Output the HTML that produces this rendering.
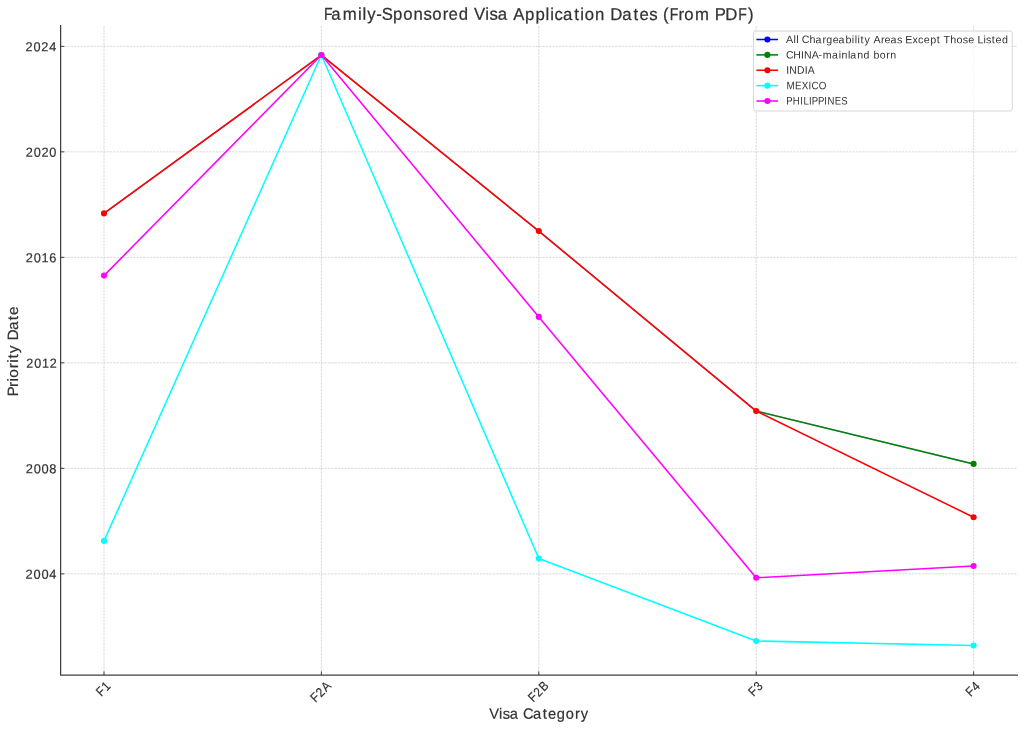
<!DOCTYPE html>
<html lang="en"><head><meta charset="utf-8">
<title>Family-Sponsored Visa Application Dates (From PDF)</title>
<style>
html,body{margin:0;padding:0;background:#fff;}
body{width:1024px;height:729px;overflow:hidden;}
svg{display:block;will-change:transform;}
text{font-family:"Liberation Sans",sans-serif;text-rendering:geometricPrecision;fill:#333333;stroke:#333333;stroke-width:0;}
.tt{stroke-width:0.25px;}.tl{stroke-width:0.2px;}.tk{stroke-width:0.2px;}.lg{stroke-width:0;}
.grid line{stroke:#c4c4c4;stroke-width:0.65;stroke-dasharray:2.3 1;fill:none;}
.tick line{stroke:#404040;stroke-width:1.0;}
.spine{stroke:#404040;stroke-width:1.25;fill:none;stroke-linecap:square;stroke-linejoin:miter;}
.s polyline,.s line{fill:none;stroke-width:1.55;stroke-linejoin:round;stroke-linecap:butt;}
</style></head><body>
<svg width="1024" height="729" viewBox="0 0 1024 729" role="img" aria-label="Line chart: Family-Sponsored Visa Application Dates (From PDF)">
<rect width="1024" height="729" fill="#ffffff"/>
<!-- grid -->
<g class="grid">
<line x1="104" y1="675.05" x2="104" y2="25.5"/>
<line x1="321.4" y1="675.05" x2="321.4" y2="25.5"/>
<line x1="538.8" y1="675.05" x2="538.8" y2="25.5"/>
<line x1="756.2" y1="675.05" x2="756.2" y2="25.5"/>
<line x1="973.6" y1="675.05" x2="973.6" y2="25.5"/>
<line x1="60.62" y1="46.35" x2="1017.4" y2="46.35"/>
<line x1="60.62" y1="151.85" x2="1017.4" y2="151.85"/>
<line x1="60.62" y1="257.35" x2="1017.4" y2="257.35"/>
<line x1="60.62" y1="362.85" x2="1017.4" y2="362.85"/>
<line x1="60.62" y1="468.35" x2="1017.4" y2="468.35"/>
<line x1="60.62" y1="573.85" x2="1017.4" y2="573.85"/>
</g>
<!-- data series -->
<g class="s" stroke="#0000ff" fill="#0000ff">
<polyline stroke-opacity="0.3" points="104,213.4 321.4,55.05 538.8,231.1 756.2,411.1 973.6,463.9"/>
</g>
<g class="s" stroke="#008000" fill="#008000">
<polyline stroke-opacity="0.3" points="104,213.4 321.4,55.05 538.8,231.1 756.2,411.1"/>
<polyline points="756.2,411.1 973.6,463.9"/>
<circle cx="973.6" cy="463.9" r="3.05" stroke="none"/>
</g>
<g class="s" stroke="#ff0000" fill="#ff0000">
<polyline points="104,213.4 321.4,55.05 538.8,231.1 756.2,411.1 973.6,517.25"/>
<circle cx="104" cy="213.4" r="3.05" stroke="none"/>
<circle cx="321.4" cy="55.05" r="3.05" stroke="none"/>
<circle cx="538.8" cy="231.1" r="3.05" stroke="none"/>
<circle cx="756.2" cy="411.1" r="3.05" stroke="none"/>
<circle cx="973.6" cy="517.25" r="3.05" stroke="none"/>
</g>
<g class="s" stroke="#00ffff" fill="#00ffff">
<polyline points="104,540.9 321.4,55.05 538.8,558.5 756.2,641 973.6,645.5"/>
<circle cx="104" cy="540.9" r="3.05" stroke="none"/>
<circle cx="321.4" cy="55.05" r="3.05" stroke="none"/>
<circle cx="538.8" cy="558.5" r="3.05" stroke="none"/>
<circle cx="756.2" cy="641" r="3.05" stroke="none"/>
<circle cx="973.6" cy="645.5" r="3.05" stroke="none"/>
</g>
<g class="s" stroke="#ff00ff" fill="#ff00ff">
<polyline points="104,275.6 321.4,55.05 538.8,316.9 756.2,577.75 973.6,566"/>
<circle cx="104" cy="275.6" r="3.05" stroke="none"/>
<circle cx="321.4" cy="55.05" r="3.05" stroke="none"/>
<circle cx="538.8" cy="316.9" r="3.05" stroke="none"/>
<circle cx="756.2" cy="577.75" r="3.05" stroke="none"/>
<circle cx="973.6" cy="566" r="3.05" stroke="none"/>
</g>
<!-- ticks + spines -->
<g class="tick">
<line x1="104" y1="675.05" x2="104" y2="671.45"/>
<line x1="321.4" y1="675.05" x2="321.4" y2="671.45"/>
<line x1="538.8" y1="675.05" x2="538.8" y2="671.45"/>
<line x1="756.2" y1="675.05" x2="756.2" y2="671.45"/>
<line x1="973.6" y1="675.05" x2="973.6" y2="671.45"/>
<line x1="60.62" y1="46.35" x2="64.22" y2="46.35"/>
<line x1="60.62" y1="151.85" x2="64.22" y2="151.85"/>
<line x1="60.62" y1="257.35" x2="64.22" y2="257.35"/>
<line x1="60.62" y1="362.85" x2="64.22" y2="362.85"/>
<line x1="60.62" y1="468.35" x2="64.22" y2="468.35"/>
<line x1="60.62" y1="573.85" x2="64.22" y2="573.85"/>
</g>
<path class="spine" d="M60.62 25.5 V675.05 H1017.4"/>
<!-- y tick labels -->
<text class="tk" transform="translate(41.16 51.2) rotate(0.05) translate(-15.74 0) scale(0.9772 1)" font-size="13.03" x="0.21 8.38 16.21 24.38">2024</text>
<text class="tk" transform="translate(41.22 156.7) rotate(0.05) translate(-15.68 0) scale(0.9769 1)" font-size="13.03" x="0.21 8.38 16.22 24.39">2020</text>
<text class="tk" transform="translate(41.2 262.2) rotate(0.05) translate(-15.7 0) scale(0.9838 1)" font-size="13.03" x="0.18 8.3 16.18 24.19">2016</text>
<text class="tk" transform="translate(41.43 367.7) rotate(0.05) translate(-15.47 0) scale(0.9659 1)" font-size="13.03" x="0.25 8.52 16.55 24.54">2012</text>
<text class="tk" transform="translate(41.23 473.2) rotate(0.05) translate(-15.67 0) scale(0.9885 1)" font-size="13.03" x="0.17 8.24 16.15 24.06">2008</text>
<text class="tk" transform="translate(41.16 578.7) rotate(0.05) translate(-15.74 0) scale(0.9860 1)" font-size="13.03" x="0.18 8.27 16.2 24.13">2004</text>
<!-- x tick labels -->
<text class="tk" transform="translate(103.4 688.5) rotate(-45) translate(-7.48 4.48) scale(0.8748 1)" font-size="13.03" x="0.07 8.87">F1</text>
<text class="tk" transform="translate(321.1 691.25) rotate(-45) translate(-12.2 4.48) scale(0.9096 1)" font-size="13.03" x="-0.1 8.27 16.64">F2A</text>
<text class="tk" transform="translate(538.5 691.25) rotate(-45) translate(-11.83 4.48) scale(0.8938 1)" font-size="13.03" x="-0.02 8.48 17.03">F2B</text>
<text class="tk" transform="translate(755.6 688.5) rotate(-45) translate(-7.56 4.48) scale(0.8807 1)" font-size="13.03" x="0.04 8.85">F3</text>
<text class="tk" transform="translate(973 688.5) rotate(-45) translate(-7.7 4.48) scale(0.9030 1)" font-size="13.03" x="-0.07 8.53">F4</text>
<!-- title and axis labels -->
<text class="tt" transform="translate(538.66 19.9) rotate(0.05) translate(-215.07 0) scale(0.9762 1)" font-size="17.14" x="0.47 7.88 19.5 35.22 39.88 44.8 53.94 59.53 71.16 81.53 92.02 102.28 111.21 122.04 128.08 138.44 148.64 154.01 165.55 169.98 178.29 188.82 194.19 206.33 216.99 227.41 232.09 236.45 245.31 256.72 262.87 267.48 277.97 288.03 293.68 306.06 317.47 323.62 333.73 342.27 347.6 354.63 363.54 369.52 380.51 395.79 400.76 411.57 424.66 434.71"><tspan textLength="8.8" lengthAdjust="spacingAndGlyphs">F</tspan>amily-Sponsored Visa Application Dates (<tspan textLength="8.8" lengthAdjust="spacingAndGlyphs">F</tspan>rom PD<tspan textLength="8.8" lengthAdjust="spacingAndGlyphs">F</tspan>)</text>
<text class="tl" transform="translate(538.75 718.8) rotate(0.05) translate(-49.6 0) scale(0.9833 1)" font-size="14.94" x="-0.01 10 13.82 21.01 30.16 34.38 44.7 54.59 59.9 68.87 78.03 87.42 93.17">Visa Category</text>
<text class="tl" transform="translate(18.3 350.85) rotate(-90) translate(-45.13 0) scale(1.0305 1)" font-size="14.94" x="-0.57 8.75 14.1 17.78 26.8 32.15 36.34 41.54 49.39 53.76 64.05 73.59 78.57">Priority Date</text>
<!-- legend -->
<g class="leg">
<rect x="753.6" y="31.05" width="258.65" height="79.95" rx="2.1" ry="2.1" fill="#ffffff" fill-opacity="0.8" stroke="#cccccc" stroke-opacity="0.8" stroke-width="1"/>
<line x1="756.4" y1="39.5" x2="778.1" y2="39.5" stroke="#0000ff" stroke-width="1.55"/>
<circle cx="767.4" cy="39.5" r="3.05" fill="#0000ff"/>
<text class="lg" transform="translate(896.75 43.2) rotate(0.05) translate(-110.58 0) scale(1.0012 1)" font-size="10.69" x="-0.07 7.22 10.06 12.67 15.57 23.33 29.31 36.32 40.03 46.5 52.38 59.2 65.59 68.43 71.27 74.37 78.23 83.93 87.11 94.69 98.34 104.21 110.76 116.03 118.91 126.07 131.62 137.42 143.85 150.5 154.01 157.12 163.78 170.14 176.3 181.75 187.85 191.19 197.03 199.7 205.45 209.16 215.47">All Chargeability Areas Except Those Listed</text>
<line x1="756.4" y1="54.88" x2="778.1" y2="54.88" stroke="#008000" stroke-width="1.55"/>
<circle cx="767.4" cy="54.88" r="3.05" fill="#008000"/>
<text class="lg" transform="translate(841.11 58.53) rotate(0.05) translate(-54.94 0) scale(0.9887 1)" font-size="10.69" x="-0.31 7.26 15.05 18.07 25.78 32.75 37.01 46.29 53.08 56.03 62.51 64.95 71.81 78.28 84.61 88.28 94.66 101.35 105.2">CHINA-mainland born</text>
<line x1="756.4" y1="70.26" x2="778.1" y2="70.26" stroke="#ff0000" stroke-width="1.55"/>
<circle cx="767.4" cy="70.26" r="3.05" fill="#ff0000"/>
<text class="lg" transform="translate(800.92 73.86) rotate(0.05) translate(-14.75 0) scale(0.9572 1)" font-size="10.85" x="0.07 3.23 11.37 19.45 22.57">INDIA</text>
<line x1="756.4" y1="85.64" x2="778.1" y2="85.64" stroke="#00ffff" stroke-width="1.55"/>
<circle cx="767.4" cy="85.64" r="3.05" fill="#00ffff"/>
<text class="lg" transform="translate(806.65 89.19) rotate(0.05) translate(-20.48 0) scale(0.9080 1)" font-size="10.85" x="0.35 9.65 17.07 24.72 27.85 35.98">MEXICO</text>
<line x1="756.4" y1="101.02" x2="778.1" y2="101.02" stroke="#ff00ff" stroke-width="1.55"/>
<circle cx="767.4" cy="101.02" r="3.05" fill="#ff00ff"/>
<text class="lg" transform="translate(817.18 104.52) rotate(0.05) translate(-31.01 0) scale(0.8812 1)" font-size="10.85" x="0.1 7.45 15.94 19.65 25.84 29.15 36.16 43.27 46.92 55.22 62.65">PHILIPPINES</text>
</g>
</svg>
</body></html>
